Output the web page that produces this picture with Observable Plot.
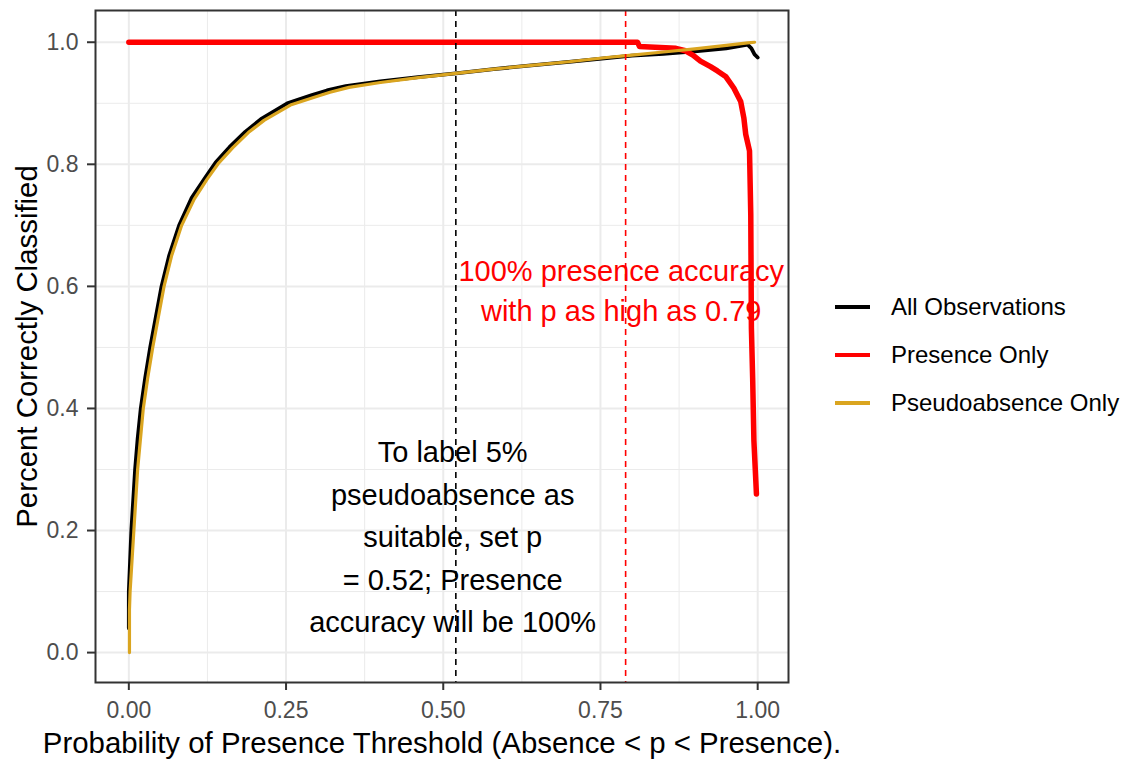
<!DOCTYPE html>
<html><head><meta charset="utf-8">
<script src="https://cdn.jsdelivr.net/npm/d3@7"></script>
<script src="https://cdn.jsdelivr.net/npm/@observablehq/plot@0.6"></script>
<style>
body{margin:0;background:#fff;font-family:"Liberation Sans",Arial,sans-serif;}
#wrap{position:relative;width:1132px;height:759px;}
#legend{position:absolute;left:835px;top:283px;}
.row{display:flex;align-items:center;height:48px;font-size:24px;color:#000;white-space:nowrap;}
.key{width:35px;height:4px;margin-right:21px;}
[aria-label="x-axis tick label"],[aria-label="y-axis tick label"]{fill:#4d4d4d;}
</style></head><body><div id="wrap"><div id="legend"></div></div>
<script>
// ---- data ----
const seriesNames = ["All Observations", "Presence Only", "Pseudoabsence Only"];
const seriesColors = ["#000000", "#ff0000", "#daa520"];

const allP = [0, 0, 0.002, 0.004, 0.007, 0.01, 0.014, 0.019, 0.026, 0.034, 0.043, 0.052, 0.064, 0.08, 0.1, 0.12, 0.138, 0.16, 0.185, 0.21, 0.252, 0.29, 0.315, 0.345, 0.4, 0.46, 0.52, 0.58, 0.64, 0.7, 0.76, 0.8, 0.85, 0.9, 0.95, 0.984, 0.99, 0.995, 1.0];
const allY = [0.04, 0.1, 0.15, 0.2, 0.25, 0.3, 0.35, 0.4, 0.45, 0.5, 0.55, 0.6, 0.65, 0.7, 0.745, 0.776, 0.803, 0.828, 0.853, 0.874, 0.9, 0.913, 0.921, 0.928, 0.936, 0.943, 0.949, 0.956, 0.962, 0.968, 0.974, 0.978, 0.981, 0.985, 0.99, 0.996, 0.99, 0.98, 0.975];

const presP = [0, 0.809, 0.812, 0.87, 0.885, 0.897, 0.909, 0.925, 0.936, 0.949, 0.962, 0.973, 0.978, 0.981, 0.987, 0.989, 0.990, 0.992, 0.994, 0.998];
const presY = [1.0, 1.0, 0.993, 0.99, 0.986, 0.979, 0.969, 0.96, 0.953, 0.944, 0.925, 0.903, 0.876, 0.849, 0.822, 0.718, 0.532, 0.45, 0.347, 0.26];

const pseudoP = [0.001, 0.001, 0.002, 0.008, 0.014, 0.023, 0.03, 0.038, 0.047, 0.056, 0.068, 0.084, 0.104, 0.124, 0.142, 0.165, 0.19, 0.215, 0.257, 0.295, 0.32, 0.35, 0.4, 0.46, 0.52, 0.58, 0.64, 0.7, 0.76, 0.8, 0.85, 0.9, 0.95, 0.984, 0.995];
const pseudoY = [0, 0.07, 0.1, 0.2, 0.3, 0.4, 0.45, 0.5, 0.55, 0.6, 0.65, 0.7, 0.743, 0.775, 0.801, 0.827, 0.852, 0.872, 0.897, 0.91, 0.918, 0.926, 0.934, 0.942, 0.949, 0.956, 0.962, 0.968, 0.975, 0.979, 0.984, 0.989, 0.995, 0.999, 1.0];

const xTicks = [0, 0.25, 0.5, 0.75, 1];
const xTickLabels = ["0.00", "0.25", "0.50", "0.75", "1.00"];
const xMinor = [0.125, 0.375, 0.625, 0.875];
const yTicks = [0, 0.2, 0.4, 0.6, 0.8, 1.0];
const yTickLabels = ["0.0", "0.2", "0.4", "0.6", "0.8", "1.0"];
const yMinor = [0.1, 0.3, 0.5, 0.7, 0.9];

const blackThreshold = 0.52;
const redThreshold = 0.79;

const redNote = "100% presence accuracy\nwith p as high as 0.79";
const redNoteX = 0.783, redNoteY = 0.597;
const blackNote = "To label 5%\npseudoabsence as\nsuitable, set p\n= 0.52; Presence\naccuracy will be 100%";
const blackNoteX = 0.515, blackNoteY = 0.195;

const xTitle = "Probability of Presence Threshold (Absence < p < Presence).";
const yTitle = "Percent Correctly Classified";

// ---- build tables ----
const rows = (P, Y, s) => P.map((p, i) => ({p, y: Y[i], series: s}));
const allRows = rows(allP, allY, seriesNames[0]);
const presRows = rows(presP, presY, seriesNames[1]);
const pseudoRows = rows(pseudoP, pseudoY, seriesNames[2]);

const grid = "#ebebeb";
const chart = Plot.plot({
  width: 1132, height: 759,
  marginLeft: 95, marginRight: 344, marginTop: 10, marginBottom: 77,
  style: {fontFamily: "'Liberation Sans', Arial, sans-serif", background: "#fff"},
  x: {domain: [-0.053, 1.049]},
  y: {domain: [-0.049, 1.052]},
  color: {domain: seriesNames, range: seriesColors},
  marks: [
    Plot.ruleX(xMinor, {stroke: grid, strokeWidth: 1}),
    Plot.ruleY(yMinor, {stroke: grid, strokeWidth: 1}),
    Plot.ruleX(xTicks, {stroke: grid, strokeWidth: 2}),
    Plot.ruleY(yTicks, {stroke: grid, strokeWidth: 2}),
    Plot.line(allRows, {x: "p", y: "y", stroke: "series", strokeWidth: 3.8}),
    Plot.line(presRows, {x: "p", y: "y", stroke: "series", strokeWidth: 5.5}),
    Plot.line(pseudoRows, {x: "p", y: "y", stroke: "series", strokeWidth: 3.2}),
    Plot.text([redNote], {x: redNoteX, y: redNoteY, fill: "#ff0000", fontSize: 29, lineHeight: 1.38}),
    Plot.text([blackNote], {x: blackNoteX, y: blackNoteY, fill: "#000", fontSize: 29, lineHeight: 1.47}),
    Plot.ruleX([blackThreshold], {stroke: "#000", strokeWidth: 1.6, strokeDasharray: "6,5"}),
    Plot.ruleX([redThreshold], {stroke: "#ff0000", strokeWidth: 1.6, strokeDasharray: "6,5"}),
    Plot.frame({stroke: "#333", strokeWidth: 2}),
    Plot.axisX({ticks: xTicks, tickFormat: d => xTickLabels[xTicks.indexOf(d)], tickSize: 8, tickPadding: 11, fontSize: 23, stroke: "#333", strokeWidth: 2, label: null}),
    Plot.axisY({ticks: yTicks, tickFormat: d => yTickLabels[yTicks.indexOf(d)], tickSize: 8, tickPadding: 9, fontSize: 23, stroke: "#333", strokeWidth: 2, label: null}),
    Plot.text([xTitle], {frameAnchor: "bottom", lineAnchor: "middle", textAnchor: "middle", dy: 61, fontSize: 29.4, fill: "#000"}),
    Plot.text([yTitle], {frameAnchor: "left", lineAnchor: "middle", textAnchor: "middle", rotate: -90, dx: -68, fontSize: 29.4, fill: "#000"})
  ]
});
document.getElementById("wrap").prepend(chart);

const legend = document.getElementById("legend");
seriesNames.forEach((name, i) => {
  const row = document.createElement("div");
  row.className = "row";
  const key = document.createElement("div");
  key.className = "key";
  key.style.background = seriesColors[i];
  const lab = document.createElement("span");
  lab.textContent = name;
  row.append(key, lab);
  legend.append(row);
});
</script>
</body></html>
